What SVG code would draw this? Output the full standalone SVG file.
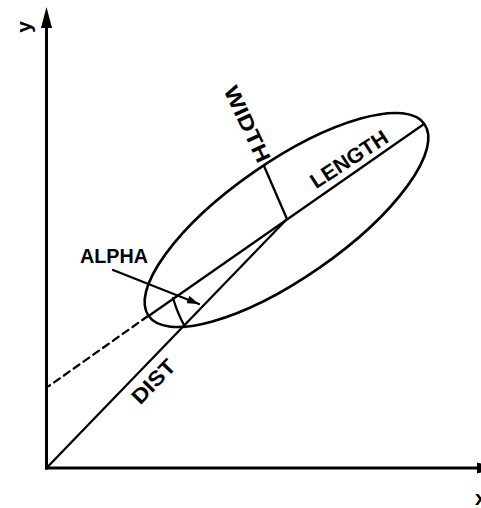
<svg xmlns="http://www.w3.org/2000/svg" width="481" height="508" viewBox="0 0 481 508">
<style>
.ax{stroke:#000;stroke-width:3;fill:none}
.ln{stroke:#000;stroke-width:2.3;fill:none;stroke-linecap:round}
.lbl{font-family:"Liberation Sans",Arial,sans-serif;font-weight:bold;font-size:21px;fill:#000}
</style>
<defs>
<marker id="ah" viewBox="0 0 12 8" refX="12" refY="4" markerWidth="12" markerHeight="8" markerUnits="userSpaceOnUse" orient="auto">
<path d="M0,0 L12,4 L0,8 Z" fill="#000"/>
</marker>
</defs>
<rect width="481" height="508" fill="#fff"/>
<g id="axes">
<line class="ax" x1="46.5" y1="469.5" x2="46.5" y2="24"/>
<polygon points="46.5,7 41,28 52,28" fill="#000"/>
<line class="ax" x1="45" y1="468" x2="480" y2="468"/>
<polygon points="477,462.5 497,468 477,473.5" fill="#000"/>
<text class="lbl" transform="translate(31,27) rotate(-90)" text-anchor="middle">y</text>
<text class="lbl" x="475" y="505">x</text>
</g>
<g id="ellipse">
<ellipse cx="286.5" cy="220" rx="168" ry="58" transform="rotate(-34.8 286.5 220)" fill="none" stroke="#000" stroke-width="2.6"/>
</g>
<g id="connectors">
<line class="ln" x1="150" y1="315" x2="424" y2="124"/>
<line class="ln" x1="287" y1="219" x2="264" y2="166"/>
<line class="ln" x1="46.5" y1="468" x2="287" y2="219"/>
<line class="ln" x1="148" y1="316" x2="49" y2="386" stroke-dasharray="7 5" stroke-linecap="butt"/>
<path class="ln" d="M173,298 A142,142 0 0,0 185,327"/>
<line class="ln" x1="113" y1="270" x2="199" y2="304" marker-end="url(#ah)"/>
</g>
<g id="labels">
<text class="lbl" x="114" y="263" text-anchor="middle" textLength="68" lengthAdjust="spacingAndGlyphs">ALPHA</text>
<text class="lbl" transform="translate(353,165.3) rotate(-33)" text-anchor="middle" textLength="88" lengthAdjust="spacingAndGlyphs">LENGTH</text>
<text class="lbl" transform="translate(240.7,127.2) rotate(65)" text-anchor="middle" textLength="82" lengthAdjust="spacingAndGlyphs">WIDTH</text>
<text class="lbl" transform="translate(158.6,386.5) rotate(-46)" text-anchor="middle" textLength="53" lengthAdjust="spacingAndGlyphs">DIST</text>
</g>
</svg>
